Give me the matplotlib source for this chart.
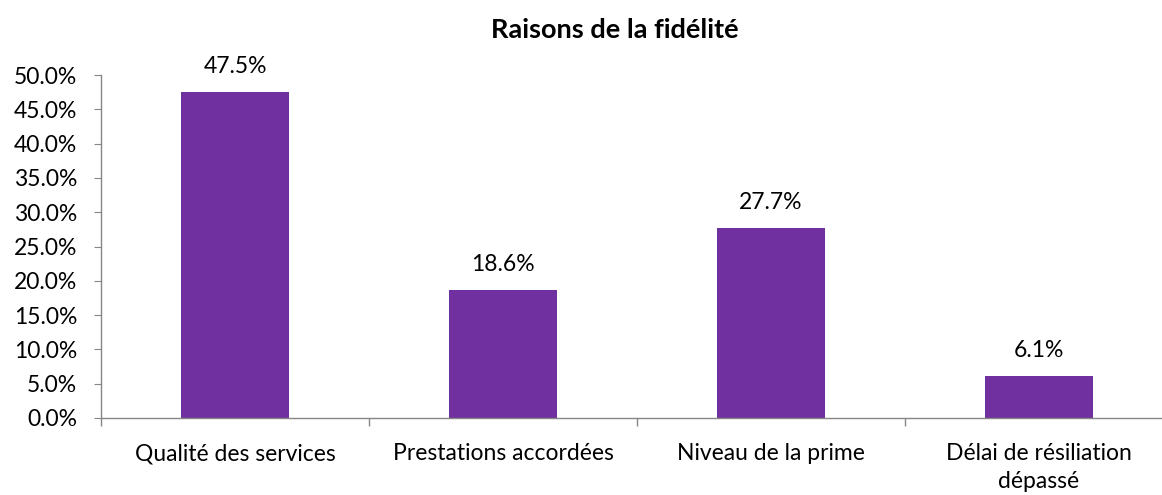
import matplotlib
matplotlib.use("Agg")
from matplotlib import pyplot as plt
from matplotlib.ticker import FuncFormatter, FixedLocator

categories = ["Qualité des services", "Prestations accordées", "Niveau de la prime", "Délai de résiliation\ndépassé"]
values = [47.5, 18.6, 27.7, 6.1]
yticks = [0, 5, 10, 15, 20, 25, 30, 35, 40, 45, 50]

plt.rcParams["font.family"] = ["Lato", "DejaVu Sans"]
grey = "#868686"
fs = 16.5

fig = plt.figure(figsize=(11.62, 4.95), dpi=100)
ax = fig.add_axes([101 / 1162, 77 / 495, 1072 / 1162, 343 / 495])

x = range(len(categories))
ax.bar(x, values, width=0.4, color="#7030A0")
for i, v in zip(x, values):
    ax.text(i, v + 2.2, f"{v:.1f}%", ha="center", va="bottom", fontsize=fs)

ax.set_xlim(-0.5, len(categories) - 0.5)
ax.set_ylim(0, 50)
ax.set_yticks(yticks)
ax.yaxis.set_major_formatter(FuncFormatter(lambda v, p: f"{v:.1f}%"))
ax.set_xticks(list(x))
ax.set_xticklabels(categories, fontsize=fs, linespacing=1.4)
ax.xaxis.set_minor_locator(FixedLocator([-0.5, 0.5, 1.5, 2.5, 3.5]))
ax.tick_params(axis="x", which="major", length=0, pad=18)
ax.tick_params(axis="x", which="minor", length=6, color=grey, width=1)
ax.tick_params(axis="y", length=5, color=grey, labelsize=fs, pad=12)

for s in ["top", "right"]:
    ax.spines[s].set_visible(False)
for s in ["left", "bottom"]:
    ax.spines[s].set_color(grey)
    ax.spines[s].set_linewidth(1)

fig.text(615 / 1162, 1 - 30 / 495, "Raisons de la fidélité", ha="center", va="center",
         fontsize=19.5, fontweight="bold")

fig.savefig("out.png", dpi=100)
